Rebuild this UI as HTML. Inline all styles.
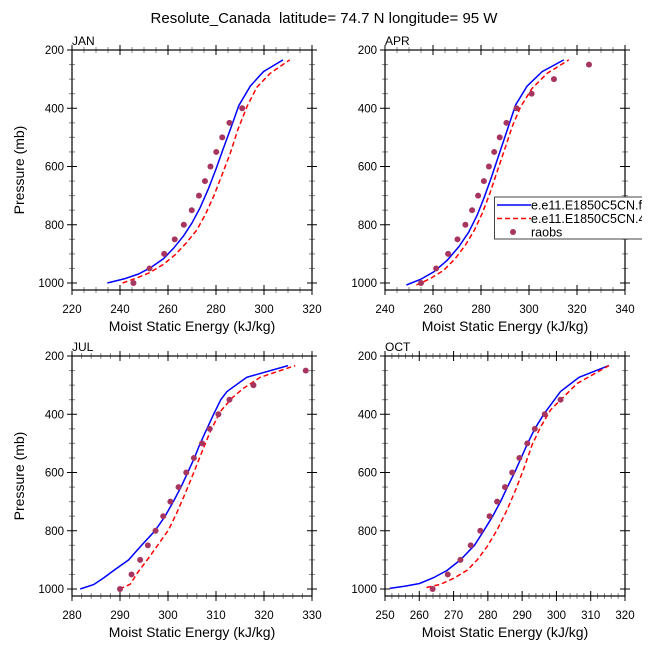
<!DOCTYPE html>
<html><head><meta charset="utf-8"><style>
html,body{margin:0;padding:0;background:#fff;}
svg{display:block;font-family:"Liberation Sans",sans-serif;}
</style></head><body>
<svg id="c" width="648" height="648" viewBox="0 0 648 648">
<text x="324" y="23" text-anchor="middle" font-size="15" xml:space="preserve" style="white-space:pre">Resolute_Canada  latitude= 74.7 N longitude= 95 W</text>
<defs><clipPath id="lc"><rect x="0" y="0" width="642" height="648"/></clipPath></defs>
</svg>
<script>
// JAN
const janObsX=[245.6,252.3,258.4,262.8,266.6,269.9,272.9,275.4,277.7,280.1,282.6,285.6,290.9];
const janObsP=[1000,950,900,850,800,750,700,650,600,550,500,450,400];
const janBlueX=[234.7,242.1,247.7,252.8,258.1,262.3,266.5,269.9,273.4,276.9,280.1,283.1,285.9,289.5,294.3,299.8,307.9];
const janBlueP=[1000,985,969,947,917,881,838,795,741,675,607,537,474,391,324,274,234];
const janRedX=[241.1,247,252.5,258.1,263,267.8,272,275.5,279,282.5,285.9,289.1,292.9,297,302.6,310.7];
const janRedP=[1000,983,964,936,903,861,818,766,703,629,555,474,394,328,280,234];
// APR
const aprObsX=[255.0,261.3,266.3,270.2,273.5,276.3,278.8,281.2,283.3,285.5,287.8,290.6,294.8,301.1,310.4,325.0];
const aprObsP=[1000,950,900,850,800,750,700,650,600,550,500,450,400,350,300,250];
const aprBlueX=[248.9,254.7,260.3,265.9,270.7,274.9,278.4,281.4,284.4,287.4,290.9,294.4,299.2,305.5,314.5];
const aprBlueP=[1007,988,962,922,876,825,767,704,635,561,475,389,324,274,234];
const aprRedX=[253.1,258.9,264.5,269.3,273.5,277.3,280.5,283.7,286.7,289.8,293,296.5,301.3,307.6,316.6];
const aprRedP=[1007,985,956,916,870,818,761,692,618,543,463,395,332,280,234];
// JUL
const julObsX=[290.0,292.4,294.2,295.8,297.4,299.0,300.5,302.2,303.8,305.4,307.1,308.7,310.5,312.8,317.8,328.7];
const julObsP=[1000,950,900,850,800,750,700,650,600,550,500,450,400,350,300,250];
const julBlueX=[281.7,284.5,286.5,288.8,291.8,294.5,297.3,299.4,301.1,302.7,304.1,305.5,306.7,308.1,309.5,311,312.3,316.4,325];
const julBlueP=[1000,985,963,935,900,850,800,750,700,650,600,550,500,450,400,350,322,273,233];
// red
const julRedX=[289.9,292.1,293.8,295.9,297.9,300.1,301.8,303.6,305.3,307.1,308.8,310.9,313.3,315.7,319.2,326.5];
const julRedP=[1000,984,941,895,849,797,740,671,603,528,460,391,345,311,273,233];
// OCT
const octObsX=[263.9,268.3,272,275,277.8,280.5,282.7,285,287.1,289.2,291.5,293.7,296.6,301.2];
const octObsP=[1000,950,900,850,800,750,700,650,600,550,500,450,400,350];
const octBlueX=[251.4,255.9,260.1,264.2,268.1,272,276.1,278.8,281.4,283.7,285.7,287.8,289.7,291.6,293.7,296.3,301.2,306.6,315.3];
const octBlueP=[998,990,981,961,936,900,850,800,750,700,650,600,550,500,450,400,322,273,233];
const octRedX=[262.1,266.2,270.1,274,276.9,279.8,282.7,285.6,288.1,290.5,292.9,295.4,298.3,301.2,306.1,315.3];
const octRedP=[995,984,963,935,900,854,797,728,660,586,505,443,385,351,294,233];

const yTicks=[200,400,600,800,1000];
const NS="http://www.w3.org/2000/svg";
const svg=document.getElementById('c');
function mk(tag,attrs,parent){const e=document.createElementNS(NS,tag);for(const k in attrs)e.setAttribute(k,attrs[k]);(parent||svg).appendChild(e);return e;}

function panel(o){
  const g=mk('g',{});
  
  
  const L=o.left,R=o.left+240,T=o.top,B=o.top+240;
  const sx=v=>L+(v-o.xmin)/(o.xmax-o.xmin)*240;
  const sy=p=>T+(p-200)/800*233;
  const xstep=o.xstep, nminor=o.nminor;
  for(let v=o.xmin;v<=o.xmax+1e-6;v+=xstep/nminor){
    const major=Math.abs((v-o.xmin)/xstep-Math.round((v-o.xmin)/xstep))<1e-6;
    const len=major?5:3, col=major?'#000':'#888';
    const x=sx(v);
    mk('line',{x1:x,x2:x,y1:B,y2:B+len,stroke:col,'stroke-width':1},g);
    mk('line',{x1:x,x2:x,y1:B,y2:B-len,stroke:col,'stroke-width':1},g);
    mk('line',{x1:x,x2:x,y1:T,y2:T-len,stroke:col,'stroke-width':1},g);
    mk('line',{x1:x,x2:x,y1:T,y2:T+len,stroke:col,'stroke-width':1},g);
    if(major){const t=mk('text',{x:x,y:B+23,'text-anchor':'middle','font-size':11.5},g);t.textContent=Math.round(v);
      
      }
  }
  for(let p=200;p<=1000;p+=50){
    const major=p%200===0, len=major?5:3, col=major?'#000':'#888', y=sy(p);
    mk('line',{x1:L,x2:L-len,y1:y,y2:y,stroke:col,'stroke-width':1},g);
    mk('line',{x1:L,x2:L+len,y1:y,y2:y,stroke:col,'stroke-width':1},g);
    mk('line',{x1:R,x2:R+len,y1:y,y2:y,stroke:col,'stroke-width':1},g);
    mk('line',{x1:R,x2:R-len,y1:y,y2:y,stroke:col,'stroke-width':1},g);
  }
  yTicks.forEach(p=>{const t=mk('text',{x:L-8,y:sy(p)+4,'text-anchor':'end','font-size':11.5},g);t.textContent=p;
    
    });
  const box=mk('rect',{x:L,y:T,width:240,height:240,fill:'none',stroke:'#000','stroke-width':1.2},g);
  
  
  const lab=mk('text',{x:L,y:T-5,'font-size':12},g);lab.textContent=o.label;
  
  
  const xt=mk('text',{x:L+120,y:B+41,'text-anchor':'middle','font-size':14},g);xt.textContent='Moist Static Energy (kJ/kg)';
  
  
  if(o.ytitle){const yt=mk('text',{x:0,y:0,'text-anchor':'middle','font-size':14,transform:`translate(24,${T+120}) rotate(-90)`},g);yt.textContent='Pressure (mb)';
    
    }
  const pts=(X,P)=>X.map((v,i)=>sx(v).toFixed(1)+','+sy(P[i]).toFixed(1)).join(' ');
  const bl=mk('polyline',{points:pts(o.bx,o.bp),fill:'none',stroke:'#0000ff','stroke-width':1.5},g);
  
  
  const rl=mk('polyline',{points:pts(o.rx,o.rp),fill:'none',stroke:'#ff0000','stroke-width':1.5,'stroke-dasharray':'5,3'},g);
  
  
  o.ox.forEach((v,i)=>{const c=mk('circle',{cx:sx(v),cy:sy(o.op[i]),r:3,fill:'#a63560'},g);
    
    });
}
panel({name:'jan',label:'JAN',left:72,top:50,xmin:220,xmax:320,xstep:20,nminor:4,ytitle:true,bx:janBlueX,bp:janBlueP,rx:janRedX,rp:janRedP,ox:janObsX,op:janObsP});
panel({name:'apr',label:'APR',left:385,top:50,xmin:240,xmax:340,xstep:20,nminor:4,ytitle:false,bx:aprBlueX,bp:aprBlueP,rx:aprRedX,rp:aprRedP,ox:aprObsX,op:aprObsP});
panel({name:'jul',label:'JUL',left:72,top:356,xmin:280,xmax:330,xstep:10,nminor:5,ytitle:true,bx:julBlueX,bp:julBlueP,rx:julRedX,rp:julRedP,ox:julObsX,op:julObsP});
panel({name:'oct',label:'OCT',left:385,top:356,xmin:250,xmax:320,xstep:10,nminor:5,ytitle:false,bx:octBlueX,bp:octBlueP,rx:octRedX,rp:octRedP,ox:octObsX,op:octObsP});

const lg=mk('g',{'clip-path':'url(#lc)'});


mk('rect',{x:494.5,y:197,width:170,height:42,fill:'#fff',stroke:'#444','stroke-width':1},lg);
const entries=[['e.e11.E1850C5CN.f09','#0000ff',''],['e.e11.E1850C5CN.4','#ff0000','5,3'],['raobs','#a63560','dot']];
entries.forEach((e,i)=>{
  const y=205+i*13.5;
  const eg=mk('g',{},lg);
  
  
  if(e[2]==='dot') mk('circle',{cx:513,cy:y,r:3,fill:e[1]},eg);
  else mk('line',{x1:497,x2:531,y1:y,y2:y,stroke:e[1],'stroke-width':1.5,'stroke-dasharray':e[2]||'none'},eg);
  const t=mk('text',{x:531,y:y+4.5,'font-size':12.5},eg);t.textContent=e[0];
});
</script>
</body></html>
